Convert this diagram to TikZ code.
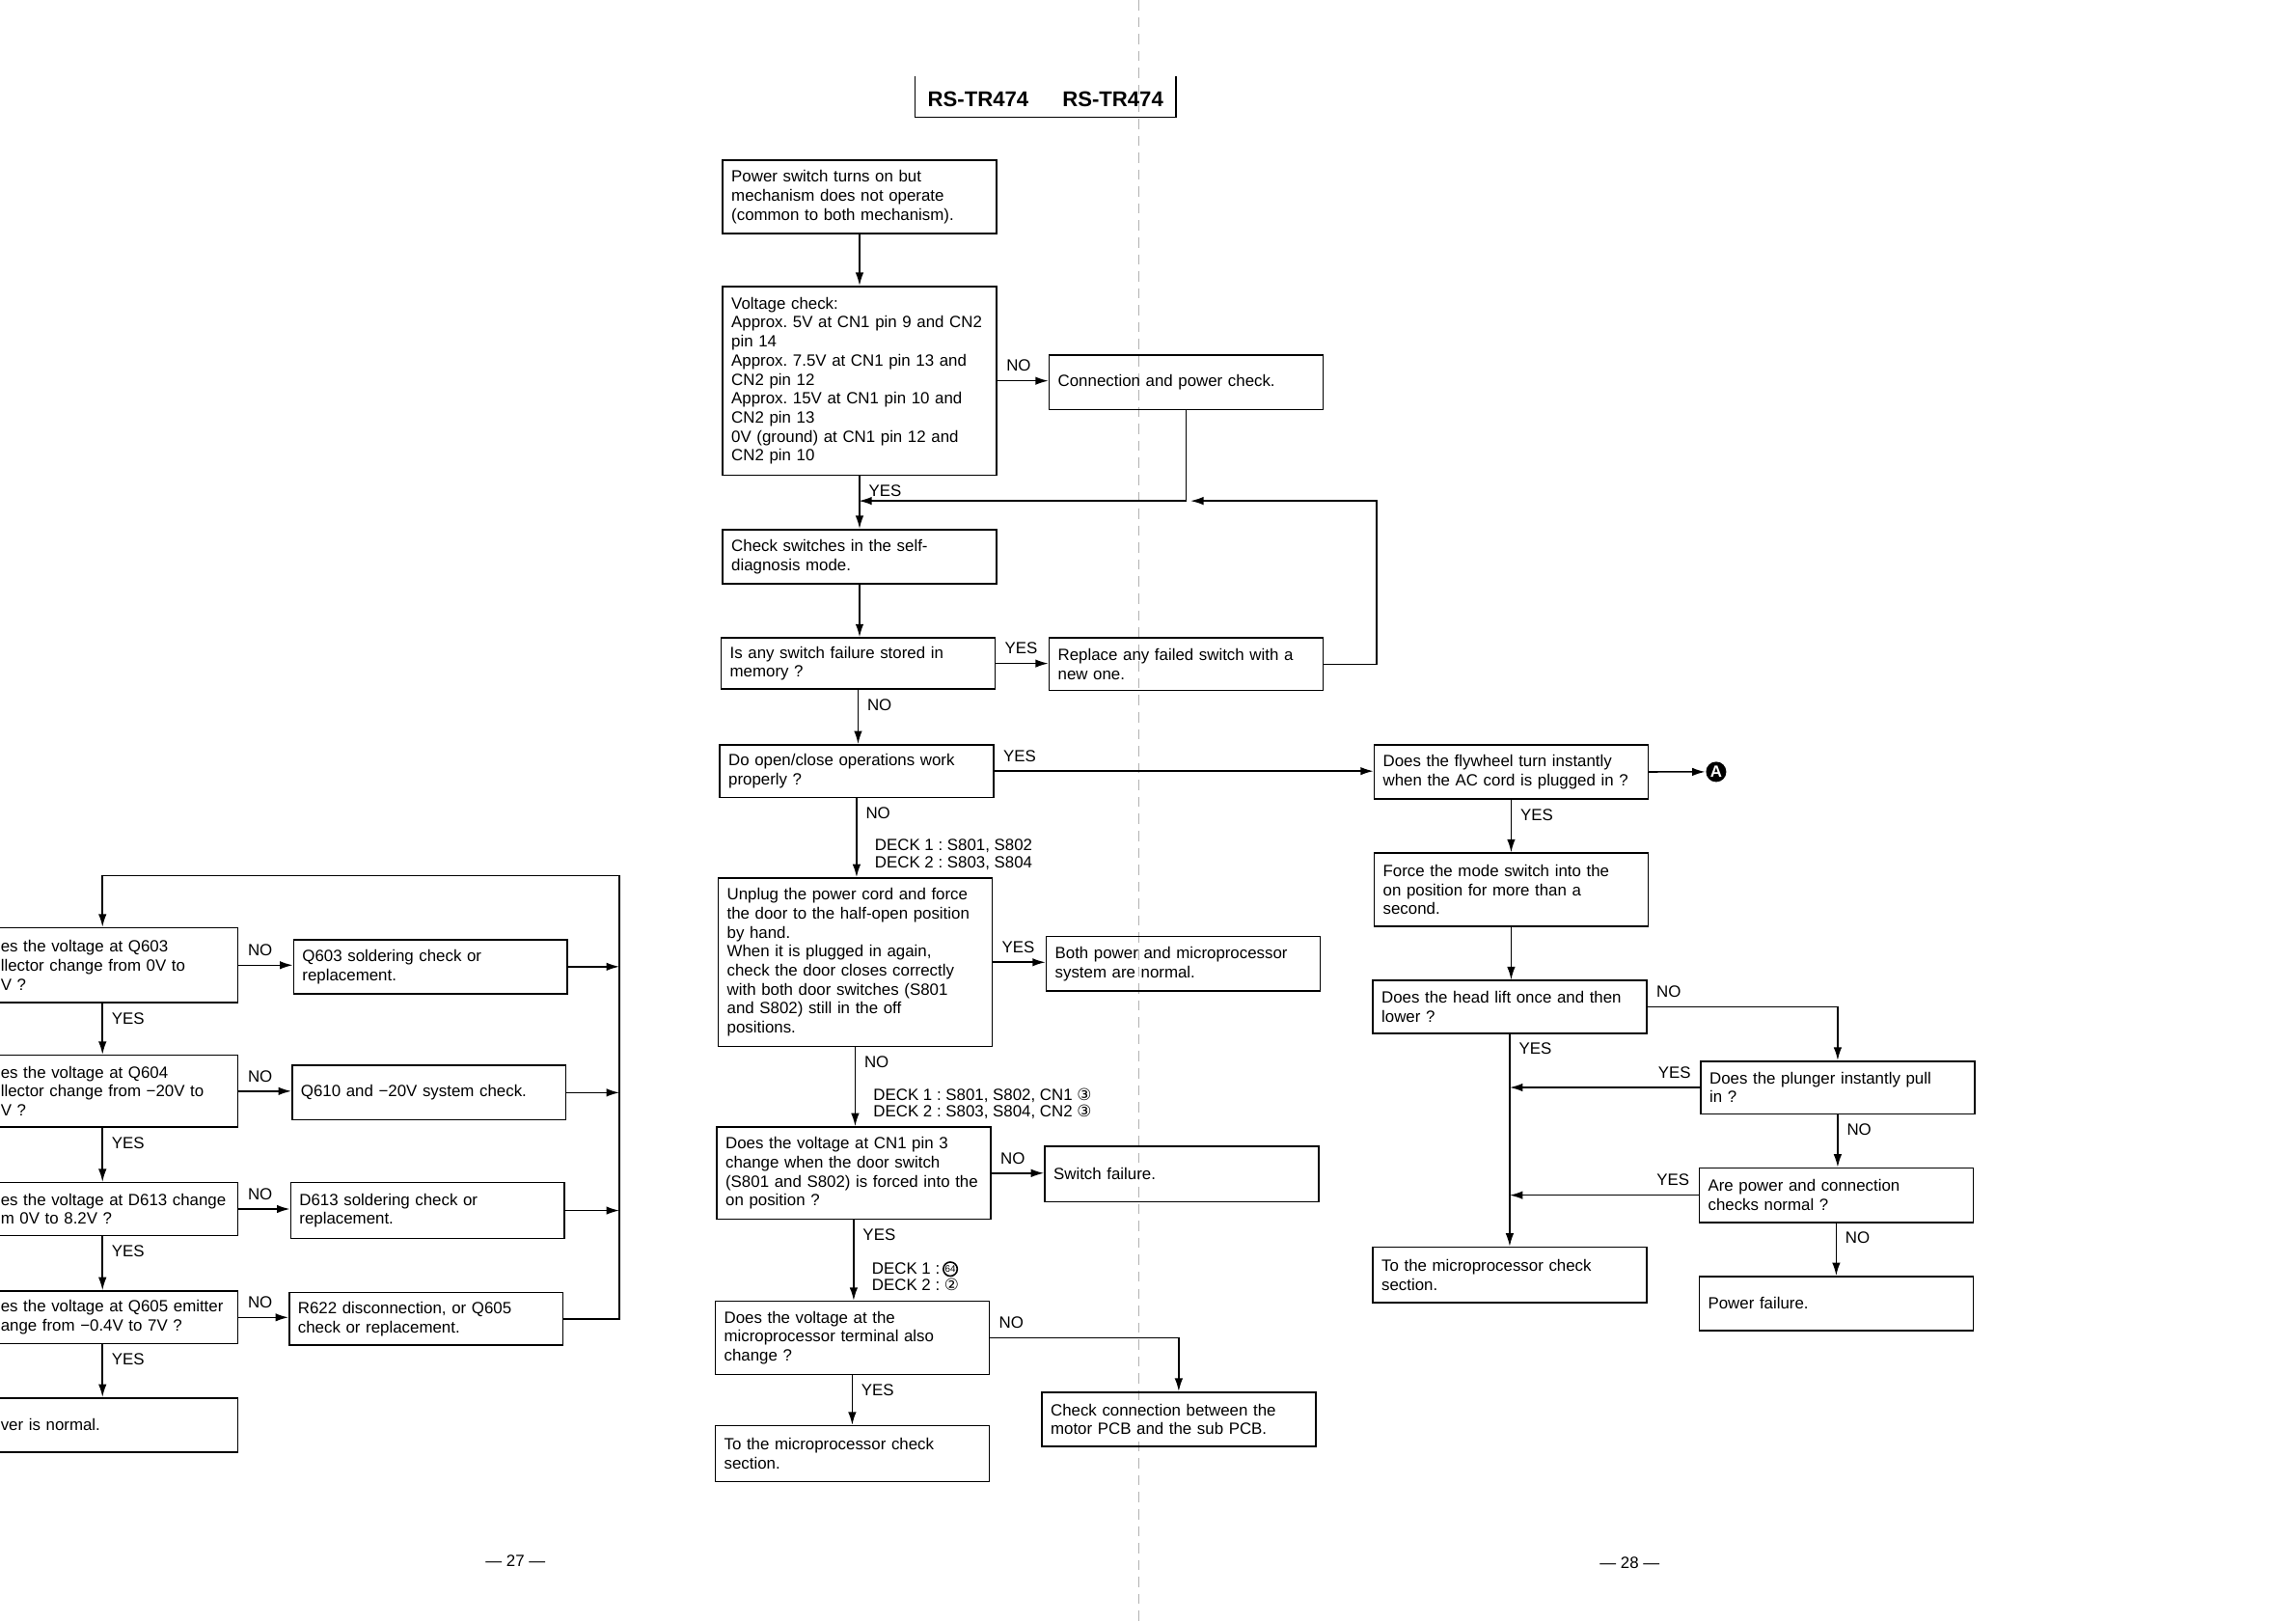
\documentclass[tikz,border=0pt]{standalone}
\usepackage{fontspec}
\setmainfont{Liberation Sans}
\newfontfamily\symfont{DejaVu Sans}
\usetikzlibrary{arrows.meta}
\frenchspacing

\begin{document}
\begin{tikzpicture}[->, >={Latex[length=1.35mm, width=0.85mm]}, x=0.15179mm, y=-0.15179mm, line width=0.45pt]
\tikzstyle{v} = [draw=black, rectangle, anchor=north west, align=left, text width=26.56mm, inner xsep=0.91mm, inner ysep=0pt, minimum height=5.62mm, font=\fontsize{4.8}{5.6}\selectfont]
\tikzstyle{vl} = [v, text width=23.68mm]
\tikzstyle{e} = [draw=black]
\tikzstyle{lbl} = [inner sep=2.5pt, font=\fontsize{4.8}{5.6}\selectfont]
\tikzstyle{deck} = [anchor=west, inner sep=0pt, align=left, font=\fontsize{4.8}{4.9}\selectfont]

\useasboundingbox (0,0) rectangle (1568,1107);
\clip (0,0) rectangle (1568,1107);

\draw[-, black!30, densely dashed, line width=0.3pt] (778,0) -- (778,1107);
\draw[-] (625,52) |- (803,80) -- (803,52);
\node[font=\bfseries\fontsize{6.3}{7}\selectfont] (hd1) at (668,68) {RS-TR474};
\node[font=\bfseries\fontsize{6.3}{7}\selectfont] (hd2) at (760,68) {RS-TR474};

\node[v, minimum height=7.59mm] (A1) at (493,109) {Power switch turns on but\\mechanism does not operate\\(common to both mechanism).};
\node[v, minimum height=19.58mm] (A2) at (493,195) {Voltage check:\\Approx. 5V at CN1 pin 9 and CN2\\pin 14\\Approx. 7.5V at CN1 pin 13 and\\CN2 pin 12\\Approx. 15V at CN1 pin 10 and\\CN2 pin 13\\0V (ground) at CN1 pin 12 and\\CN2 pin 10};
\node[v] (B1) at (716,242) {Connection and power check.};
\node[v] (A3) at (493,361) {Check switches in the self-\\diagnosis mode.};
\node[v, minimum height=5.31mm] (A4) at (492,435) {Is any switch failure stored in\\memory ?};
\node[v, minimum height=5.46mm] (B2) at (716,435) {Replace any failed switch with a\\new one.};
\node[v, minimum height=5.46mm] (A5) at (491,508) {Do open/close operations work\\properly ?};
\node[v, minimum height=17.46mm] (A6) at (490,599) {Unplug the power cord and force\\the door to the half-open position\\by hand.\\When it is plugged in again,\\check the door closes correctly\\with both door switches (S801\\and S802) still in the off\\positions.};
\node[v] (B3) at (714,639) {Both power and microprocessor\\system are normal.};
\node[v, minimum height=9.56mm] (A7) at (489,769) {Does the voltage at CN1 pin 3\\change when the door switch\\(S801 and S802) is forced into the\\on position ?};
\node[v, minimum height=5.77mm] (B4) at (713,782) {Switch failure.};
\node[v, minimum height=7.59mm] (A8) at (488,888) {Does the voltage at the\\microprocessor terminal also\\change ?};
\node[v] (B5) at (711,950) {Check connection between the\\motor PCB and the sub PCB.};
\node[v, minimum height=5.77mm] (A9) at (488,973) {To the microprocessor check\\section.};

\node[deck] (dk1) at (597,583.5) {DECK 1 : S801, S802\\DECK 2 : S803, S804};
\node[deck] (dk2) at (596,753.5) {DECK 1 : S801, S802, CN1 {\symfont ③}\\DECK 2 : S803, S804, CN2 {\symfont ③}};
\node[deck] (dk3) at (595,872) {DECK 1 :\\DECK 2 : {\symfont ②}};
\node[-, circle, draw, inner sep=0pt, minimum size=1.45mm, font=\fontsize{2.8}{3}\selectfont] (c64) at (649,866.5) {64};

\node[v] (C1) at (938,508) {Does the flywheel turn instantly\\when the AC cord is plugged in ?};
\node[v, minimum height=7.59mm] (C2) at (938,582) {Force the mode switch into the\\on position for more than a\\second.};
\node[v, minimum height=5.46mm] (C3) at (937,669) {Does the head lift once and then\\lower ?};
\node[v, minimum height=5.46mm] (C4) at (1161,724) {Does the plunger instantly pull\\in ?};
\node[v] (C6) at (1160,797) {Are power and connection\\checks normal ?};
\node[v] (C7) at (1160,871) {Power failure.};
\node[v, minimum height=5.77mm] (C5) at (937,851) {To the microprocessor check\\section.};
\node[circle, fill=black, text=white, inner sep=0pt, minimum size=2.1mm, font=\bfseries\fontsize{4.8}{5}\selectfont] (Aout) at (1172,527) {A};

\node[vl, minimum height=7.74mm] (L1) at (-6,633) {es the voltage at Q603\\llector change from 0V to\\V ?};
\node[v] (L1n) at (200,641) {Q603 soldering check or\\replacement.};
\node[vl, minimum height=7.44mm] (L2) at (-6,720) {es the voltage at Q604\\llector change from −20V to\\V ?};
\node[v] (L2n) at (199,727) {Q610 and −20V system check.};
\node[vl, minimum height=5.46mm] (L3) at (-6,807) {es the voltage at D613 change\\m 0V to 8.2V ?};
\node[v, minimum height=5.77mm] (L3n) at (198,807) {D613 soldering check or\\replacement.};
\node[vl, minimum height=5.46mm] (L4) at (-6,881) {es the voltage at Q605 emitter\\ange from −0.4V to 7V ?};
\node[v, minimum height=5.46mm] (L4n) at (197,882) {R622 disconnection, or Q605\\check or replacement.};
\node[vl] (L5) at (-6,954) {ver is normal.};

\node[lbl] (pg27) at (352,1066) {— 27 —};
\node[lbl] (pg28) at (1113,1067) {— 28 —};

\coordinate (j1) at (586.5,342);
\coordinate (j2) at (813,342);
\coordinate (k2) at (940,342);
\coordinate (lx) at (70,598);
\coordinate (rx) at (423,598);

\draw[e] (A1.south) to (A1.south |- A2.north);
\draw[e] (A2.east) to node[lbl, above right, pos=0] (nA2) {NO} (A2.east -| B1.west);
\draw[e] (B1.south) |- (j1);
\draw[e] (A2.south) to node[lbl, below right, pos=0] (yA2) {YES} (A2.south |- A3.north);
\draw[e] (A3.south) to (A3.south |- A4.north);
\draw[e] (A4.east) to node[lbl, above right, pos=0] (yA4) {YES} (A4.east -| B2.west);
\draw[e] (B2.east) -| (k2) -- (j2);
\draw[e] (A4.south) to node[lbl, below right, pos=0] (nA4) {NO} (A4.south |- A5.north);
\draw[e] (A5.east) to node[lbl, above right, pos=0] (yA5) {YES} (A5.east -| C1.west);
\draw[e] (A5.south) to node[lbl, below right, pos=0] (nA5) {NO} (A5.south |- A6.north);
\draw[e] (A6.east) to node[lbl, above right, pos=0] (yA6) {YES} (A6.east -| B3.west);
\draw[e] (A6.south) to node[lbl, below right, pos=0] (nA6) {NO} (A6.south |- A7.north);
\draw[e] (A7.east) to node[lbl, above right, pos=0] (nA7) {NO} (A7.east -| B4.west);
\draw[e] (A7.south) to node[lbl, below right, pos=0] (yA7) {YES} (A7.south |- A8.north);
\draw[e] (A8.east) -| node[lbl, above right, pos=0] (nA8) {NO} (B5.north);
\draw[e] (A8.south) to node[lbl, below right, pos=0] (yA8) {YES} (A8.south |- A9.north);

\draw[e] (C1.east) to (Aout);
\draw[e] (C1.south) to node[lbl, below right, pos=0] (yC1) {YES} (C1.south |- C2.north);
\draw[e] (C2.south) to (C2.south |- C3.north);
\draw[e] (C3.east) -| node[lbl, above right, pos=0] (nC3) {NO} (C4.north);
\draw[e] (C3.south) to node[lbl, below right, pos=0] (yC3) {YES} (C3.south |- C5.north);
\draw[e] (C4.west) to node[lbl, above left, pos=0] (yC4) {YES} (C4.west -| C3.south);
\draw[e] (C4.south) to node[lbl, below right, pos=0] (nC4) {NO} (C4.south |- C6.north);
\draw[e] (C6.west) to node[lbl, above left, pos=0] (yC6) {YES} (C6.west -| C3.south);
\draw[e] (C6.south) to node[lbl, below right, pos=0] (nC6) {NO} (C6.south |- C7.north);

\draw[e] (L4n.east) -| (rx) -- (lx) -- (lx |- L1.north);
\draw[e] (L1n.east) to (L1n.east -| rx);
\draw[e] (L2n.east) to (L2n.east -| rx);
\draw[e] (L3n.east) to (L3n.east -| rx);
\draw[e] (L1.east) to node[lbl, above right, pos=0] (nL1) {NO} (L1.east -| L1n.west);
\draw[e] (L2.east) to node[lbl, above right, pos=0] (nL2) {NO} (L2.east -| L2n.west);
\draw[e] (L3.east) to node[lbl, above right, pos=0] (nL3) {NO} (L3.east -| L3n.west);
\draw[e] (L4.east) to node[lbl, above right, pos=0] (nL4) {NO} (L4.east -| L4n.west);
\draw[e] (lx |- L1.south) to node[lbl, below right, pos=0] (yL1) {YES} (lx |- L2.north);
\draw[e] (lx |- L2.south) to node[lbl, below right, pos=0] (yL2) {YES} (lx |- L3.north);
\draw[e] (lx |- L3.south) to node[lbl, below right, pos=0] (yL3) {YES} (lx |- L4.north);
\draw[e] (lx |- L4.south) to node[lbl, below right, pos=0] (yL4) {YES} (lx |- L5.north);
\end{tikzpicture}
\end{document}
